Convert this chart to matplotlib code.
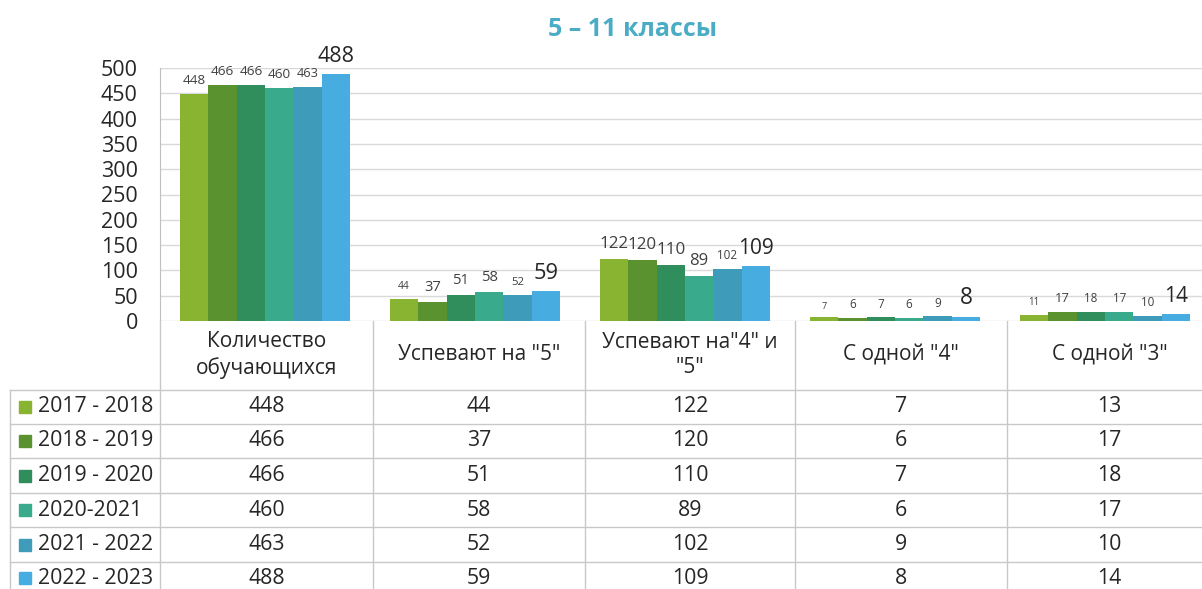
import matplotlib
matplotlib.use("Agg")
import matplotlib.pyplot as plt
import numpy as np

categories = ["Количество\nобучающихся", "Успевают на \"5\"", "Успевают на\"4\" и\n\"5\"", "С одной \"4\"", "С одной \"3\""]
series = ["2017 - 2018", "2018 - 2019", "2019 - 2020", "2020-2021", "2021 - 2022", "2022 - 2023"]
colors = ["#88B431", "#5A9230", "#2F8E5C", "#3AAA8D", "#3F9BBA", "#47ADE0"]

# values shown in the table
table_values = [
    [448, 44, 122, 7, 13],
    [466, 37, 120, 6, 17],
    [466, 51, 110, 7, 18],
    [460, 58, 89, 6, 17],
    [463, 52, 102, 9, 10],
    [488, 59, 109, 8, 14],
]
# values shown as bar labels (first series, last category reads 11 on the bars)
bar_values = [
    [448, 44, 122, 7, 11],
    [466, 37, 120, 6, 17],
    [466, 51, 110, 7, 18],
    [460, 58, 89, 6, 17],
    [463, 52, 102, 9, 10],
    [488, 59, 109, 8, 14],
]
# label font sizes per series per category
label_sizes = [
    [9.7, 7.5, 12.2, 6.5, 7],
    [9.7, 10.7, 12.2, 8.4, 9.4],
    [9.7, 10.7, 12.2, 8.4, 8.4],
    [9.7, 10.7, 12, 8.4, 8.4],
    [9.2, 8.2, 8.4, 8.4, 8.4],
    [15.5, 15.7, 15, 16.4, 15],
]
yticks = [0, 50, 100, 150, 200, 250, 300, 350, 400, 450, 500]

W, H = 1202, 589
fig = plt.figure(figsize=(W / 100, H / 100), dpi=100)
plt.rcParams['font.family'] = ['Open Sans', 'DejaVu Sans']

def fx(px):
    return px / W

def fy(py):
    return 1 - py / H

ax_left, ax_right = 160, 1202
ax_top, ax_bottom = 68, 321
ax = fig.add_axes([fx(ax_left), fy(ax_bottom), fx(ax_right - ax_left), (ax_bottom - ax_top) / H])
cat_w = 210.0
ax.set_xlim(-0.5, -0.5 + (ax_right - ax_left) / cat_w)
ax.set_ylim(0, 500)

n = len(series)
bw = 0.81 / n
x = np.arange(len(categories))
for i, s in enumerate(series):
    pos = x - 0.405 + bw * (i + 0.5)
    ax.bar(pos, bar_values[i], width=bw, color=colors[i], zorder=3, linewidth=0)
    for j, v in enumerate(bar_values[i]):
        ax.annotate(str(v), (pos[j], v), xytext=(0, 5), textcoords='offset points',
                    ha='center', va='bottom', fontsize=label_sizes[i][j],
                    color='#404040' if i < 5 else '#262626', zorder=4, annotation_clip=False)

ax.set_yticks(yticks)
ax.set_yticklabels([str(t) for t in yticks], fontsize=15.5, color='#262626')
ax.yaxis.grid(True, color='#D9D9D9', linewidth=1, zorder=0)
ax.set_xticks([])
for sp in ['top', 'right', 'bottom']:
    ax.spines[sp].set_visible(False)
ax.spines['left'].set_color('#BFBFBF')
ax.tick_params(axis='y', length=0, pad=16)
ax.set_axisbelow(True)

# title
fig.text(fx(633), fy(29), "5 – 11 классы", ha='center', va='center', fontsize=18,
         fontweight='bold', color='#4BACC6')

# table
line_c = '#C8C8C8'
col_x = [160, 373, 585, 795, 1007, 1217]
row_y = [390, 424, 458, 493, 527, 562, 596]
for cx in col_x[:-1]:
    fig.add_artist(plt.Line2D([fx(cx), fx(cx)], [fy(321), fy(589)], color=line_c, lw=1))
fig.add_artist(plt.Line2D([fx(10), fx(10)], [fy(390), fy(589)], color=line_c, lw=1))
for ry in row_y[:-1]:
    fig.add_artist(plt.Line2D([fx(10), fx(1202)], [fy(ry), fy(ry)], color=line_c, lw=1))

def col_center(j):
    if j == 4:
        return (col_x[j] + 1202) / 2 + 5
    return (col_x[j] + col_x[j + 1]) / 2

for j, c in enumerate(categories):
    fig.text(fx(col_center(j)), fy(355), c, ha='center', va='center', fontsize=15, color='#262626',
             linespacing=1.25)

for i, s in enumerate(series):
    cy = (row_y[i] + row_y[i + 1]) / 2
    if i == 5:
        cy = 578
    fig.patches.append(plt.Rectangle((fx(19), fy(cy + 6)), 12 / W, 12 / H, color=colors[i],
                                     transform=fig.transFigure, figure=fig))
    fig.text(fx(38), fy(cy), s, ha='left', va='center', fontsize=15.3, color='#262626')
    for j in range(len(categories)):
        fig.text(fx(col_center(j)), fy(cy), str(table_values[i][j]), ha='center', va='center',
                 fontsize=15.3, color='#262626')

fig.savefig("out.png", dpi=100)
